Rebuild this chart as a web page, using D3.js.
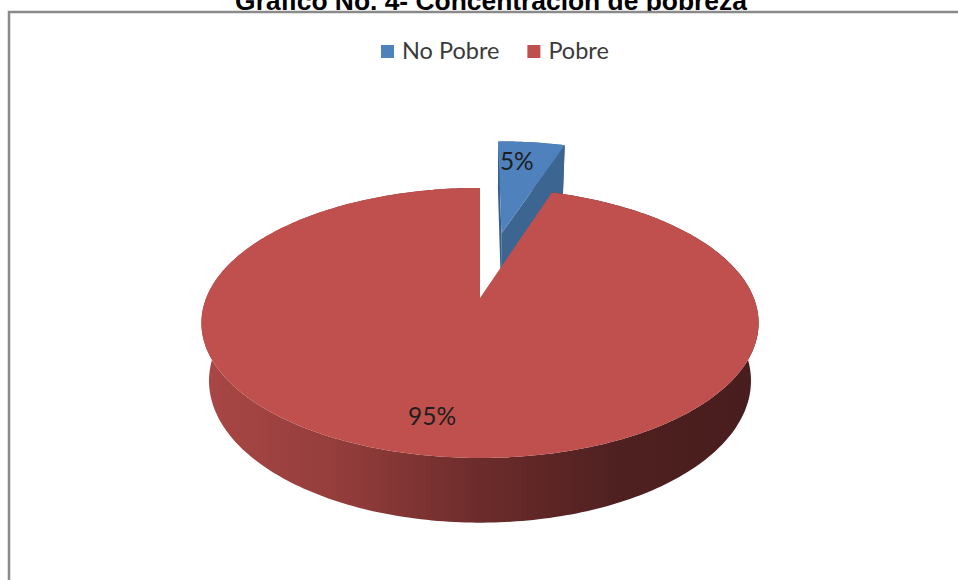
<!DOCTYPE html>
<html>
<head>
<meta charset="utf-8">
<script src="https://cdn.jsdelivr.net/npm/d3@7"></script>
<style>
  html, body { margin: 0; padding: 0; background: #fff; }
  svg { display: block; }
</style>
</head>
<body>
<svg id="chart" width="958" height="580"></svg>
<script>
// ---- data ----
const title = "Gráfico No. 4- Concentración de pobreza";
const categories = ["No Pobre", "Pobre"];
const values = [5, 95];

// ---- styling ----
const sliceColors = ["#4F81BD", "#C0504D"];
const faceColors = ["#3C6592", "#8E3A38"];
const explode = [0.55, 0];          // radial offset of each slice, in pie radii

const svg = d3.select("#chart");

// Title (sits just above the chart frame, its descenders hidden by the frame)
svg.append("text")
  .attr("x", 491).attr("y", 9.5)
  .attr("text-anchor", "middle")
  .attr("font-family", "'Liberation Sans', Arial, sans-serif")
  .attr("font-weight", "bold")
  .attr("font-size", 26.4)
  .attr("fill", "#000")
  .text(title);

// Chart frame
svg.append("rect")
  .attr("x", 9).attr("y", 12)
  .attr("width", 1000).attr("height", 1000)
  .attr("fill", "#fff")
  .attr("stroke", "#8a8a8a")
  .attr("stroke-width", 2.5);

// ---- 3D perspective projection of the pie ----
const tilt = 31 * Math.PI / 180;
const S = Math.sin(tilt), C = Math.cos(tilt);
const camDist = 4.757;     // camera distance, in pie radii
const focal = 1268;        // px
const thick = 0.244;       // pie thickness, in pie radii
const cx = 480, cy = 355.2;

function project(X, Y, Z) {
  const depth = camDist + Y * C - Z * S;
  const yc = Y * S + Z * C;
  return [cx + focal * X / depth, cy - focal * yc / depth];
}
const cam = [0, -camDist * C, camDist * S];

function arcPoints(a0, a1, z, ox, oy) {
  const n = Math.max(8, Math.ceil(Math.abs(a1 - a0) / (Math.PI / 180)));
  const pts = [];
  for (let i = 0; i <= n; i++) {
    const a = a0 + (a1 - a0) * i / n;
    pts.push(project(ox + Math.sin(a), oy + Math.cos(a), z));
  }
  return pts;
}

const polygon = d3.line().curve(d3.curveLinearClosed);

const pie = d3.pie().sort(null).value(d => d.value)
  .startAngle(0).endAngle(2 * Math.PI);

const slices = pie(categories.map((name, i) => ({
  name, value: values[i], color: sliceColors[i], face: faceColors[i], explode: explode[i], index: i
}))).map(s => {
  const mid = (s.startAngle + s.endAngle) / 2;
  s.mid = mid;
  s.ox = s.data.explode * Math.sin(mid);
  s.oy = s.data.explode * Math.cos(mid);
  return s;
});

// Side gradient for the large slice wall
const defs = svg.append("defs");
const grad = defs.append("linearGradient")
  .attr("id", "wallRed")
  .attr("gradientUnits", "userSpaceOnUse")
  .attr("x1", 201).attr("y1", 0).attr("x2", 759).attr("y2", 0);
[[0, "#a94745"], [0.25, "#933d3b"], [0.5, "#6c2c2b"], [0.75, "#4f2020"], [1, "#481d1d"]]
  .forEach(([o, c]) => grad.append("stop").attr("offset", o).attr("stop-color", c));

const wallFill = ["#3A6190", "url(#wallRed)"];

// Draw from far to near
const order = slices.slice().sort((a, b) => (b.oy + Math.cos(b.mid)) - (a.oy + Math.cos(a.mid)));

const pieG = svg.append("g");

order.forEach(s => {
  const g = pieG.append("g").attr("class", "slice");
  const a0 = s.startAngle, a1 = s.endAngle;
  const { ox, oy } = s;

  // outer wall
  const topArc = arcPoints(a0, a1, thick, ox, oy);
  const botArc = arcPoints(a0, a1, 0, ox, oy).reverse();
  g.append("path")
    .attr("d", polygon(topArc.concat(botArc)))
    .attr("fill", wallFill[s.data.index]);

  // radial faces (drawn only where they face the camera)
  [[a0, -1], [a1, 1]].forEach(([a, sgn]) => {
    const n = [sgn * Math.cos(a), -sgn * Math.sin(a)];
    const vis = n[0] * (cam[0] - ox) + n[1] * (cam[1] - oy);
    if (vis <= 1e-6) return;
    const quad = [
      project(ox, oy, thick),
      project(ox + Math.sin(a), oy + Math.cos(a), thick),
      project(ox + Math.sin(a), oy + Math.cos(a), 0),
      project(ox, oy, 0)
    ];
    g.append("path")
      .attr("d", polygon(quad))
      .attr("fill", sgn < 0 ? d3.color(s.data.face).darker(0.15) : s.data.face);
  });

  // top face
  const top = [project(ox, oy, thick)].concat(topArc);
  g.append("path")
    .attr("d", polygon(top))
    .attr("fill", s.data.color);
});

// Percentage labels, on the top face along each slice's bisector
const total = d3.sum(values);
slices.forEach(s => {
  const r = 0.78;
  const p = project(s.ox + r * Math.sin(s.mid), s.oy + r * Math.cos(s.mid), thick);
  svg.append("text")
    .attr("x", p[0] - 9).attr("y", p[1] + 10)
    .attr("text-anchor", "middle")
    .attr("font-family", "Lato, 'Open Sans', sans-serif")
    .attr("font-size", 24.5)
    .attr("fill", "#1e1e1e")
    .text(Math.round(s.data.value / total * 100) + "%");
});

// Legend
const legend = svg.append("g");
let lx = 381;
categories.forEach((name, i) => {
  legend.append("rect")
    .attr("x", lx).attr("y", 45)
    .attr("width", 13).attr("height", 13)
    .attr("fill", sliceColors[i]);
  const t = legend.append("text")
    .attr("x", lx + 21).attr("y", 59)
    .attr("font-family", "Lato, 'Open Sans', sans-serif")
    .attr("font-size", 23.5)
    .attr("fill", "#3a3a3a")
    .text(name);
  lx += 21 + t.node().getComputedTextLength() + 28;
});
</script>
</body>
</html>
